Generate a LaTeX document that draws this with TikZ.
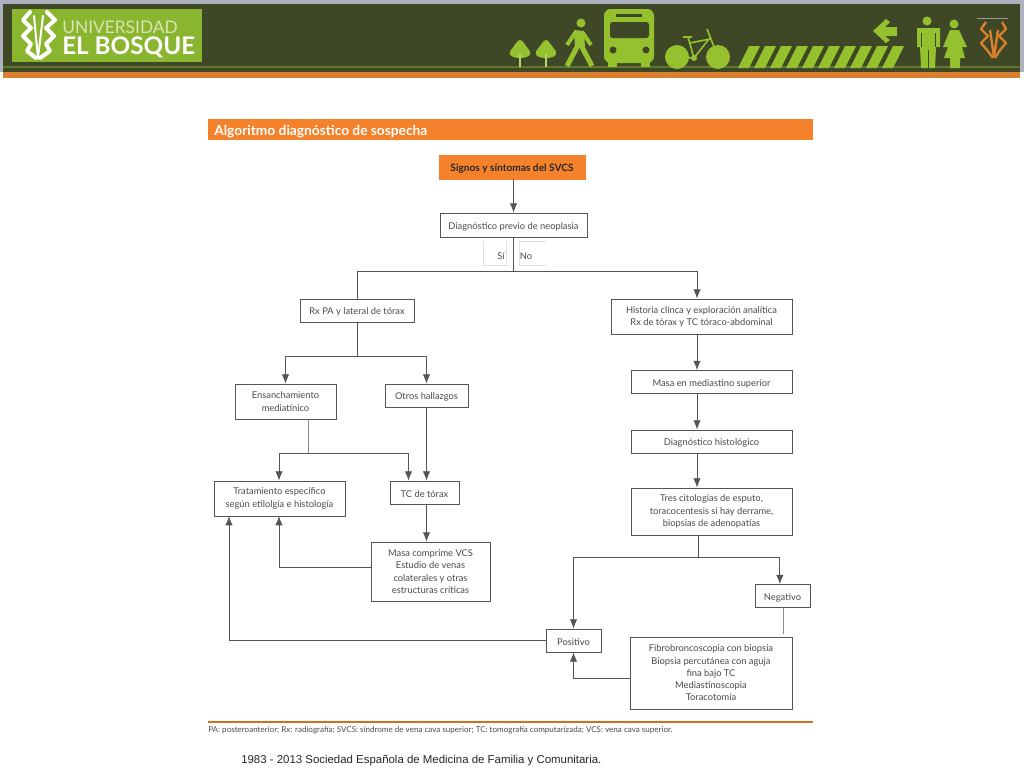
\documentclass[tikz,border=0pt]{standalone}
\usepackage{fontspec}
\setmainfont{Lato}
\newfontfamily\piefont{Liberation Sans}
\usetikzlibrary{arrows.meta}

\definecolor{banda}{HTML}{3E4827}
\definecolor{marco}{HTML}{AEB2BE}
\definecolor{verdelogo}{HTML}{8AB52E}
\definecolor{verdeicono}{HTML}{95C12F}
\definecolor{naranja}{HTML}{F5822A}
\definecolor{naranjabanda}{HTML}{D9802F}
\definecolor{linea}{HTML}{555555}
\definecolor{texto}{HTML}{4A4A4A}

\tikzset{
	caja/.style={draw=linea, line width=0.6pt, fill=white, text=texto, align=center,
		inner sep=0pt, font=\fontsize{7}{9.2}\selectfont,
		execute at begin node={\rule{0pt}{7.4pt}}},
	flecha/.style={draw=linea, line width=0.6pt, -{Latex[length=7pt, width=5.5pt]}},
	tramo/.style={draw=linea, line width=0.6pt},
	tramogris/.style={draw=black!45, line width=0.7pt},
	icono/.style={fill=verdeicono, draw=none},
}

\begin{document}
\begin{tikzpicture}[x=0.75pt, y=-0.75pt]
	\useasboundingbox (0, 0) rectangle (1024, 768);

	% banda superior
	\fill[marco] (0, 0) rectangle (1024, 72);
	\fill[banda] (3, 4) rectangle (1020, 72);
	\draw[verdeicono!40!banda, line width=0.8pt] (3, 67) -- (1020, 67);
	\fill[naranjabanda] (3, 72) rectangle (1020, 78);

	% logo
	\fill[verdelogo] (12, 9) rectangle (202, 62);
	\node[anchor=west, inner sep=0pt, text=verdelogo!35!white, font=\fontsize{13}{13}\selectfont]
		(universidad) at (62, 27) {UNIVERSIDAD};
	\node[anchor=west, inner sep=0pt, text=white, font=\fontsize{18.2}{18.2}\selectfont\bfseries]
		(bosque) at (62, 47) {EL BOSQUE};
	\begin{scope}[draw=white, line join=round, line cap=round]
		\draw[line width=1.5pt] (34, 16) -- (38, 58) -- (43, 16);
		\draw[line width=3pt] (30, 12) -- (23, 20) -- (31, 28) -- (23, 36) -- (31, 44) -- (27, 51) -- (36, 58);
		\draw[line width=3pt] (47, 12) -- (55, 20) -- (46, 28) -- (54, 36) -- (46, 44) -- (50, 51) -- (40, 58);
	\end{scope}

	% arboles
	\foreach \tx in {520, 546} {
		\fill[icono, rounded corners=3pt] (\tx, 38) -- (\tx+12, 54) -- (\tx+6, 58)
			-- (\tx-6, 58) -- (\tx-12, 54) -- cycle;
		\fill[verdeicono!70!white] (\tx-1.2, 54) rectangle (\tx+1.2, 67);
	}

	% peaton
	\fill[icono] (581, 23) circle (4.5);
	\fill[icono] (574, 30) -- (584, 31) -- (585, 47) -- (575, 49) -- cycle;
	\draw[verdeicono, line width=3pt, line join=round] (567, 45) -- (575, 33);
	\draw[verdeicono, line width=3pt, line join=round] (583, 33) -- (591, 45);
	\draw[verdeicono, line width=3.8pt, line join=round] (567, 66) -- (577, 47);
	\draw[verdeicono, line width=3.8pt, line join=round] (592, 66) -- (582, 47);

	% autobus
	\fill[icono, rounded corners=5pt] (604, 9) rectangle (654, 63);
	\fill[banda, rounded corners=2pt] (610, 22) rectangle (649, 38);
	\fill[banda] (616, 14) rectangle (642, 17);
	\fill[banda] (613, 50) circle (3.5);
	\fill[banda] (646, 50) circle (3.5);
	\fill[icono] (608, 60) rectangle (617, 67);
	\fill[icono] (641, 60) rectangle (650, 67);

	% bicicleta
	\fill[icono] (677, 57) circle (12);
	\fill[icono] (718, 57) circle (12);
	\draw[verdeicono, line width=1.2pt] (677, 57) -- (694, 58) -- (688, 37);
	\draw[verdeicono, line width=1.2pt] (694, 58) -- (709, 39);
	\draw[verdeicono, line width=1.2pt] (718, 57) -- (707, 29);
	\draw[verdeicono, line width=1.2pt] (690, 43) -- (710, 39);
	\draw[verdeicono, line width=2pt] (683, 37) -- (692, 37);
	\fill[icono] (694, 58) circle (3);

	% rayas del suelo
	\foreach \sx in {0, ..., 9} {
		\fill[icono] (738+16*\sx, 68) -- (749+16*\sx, 68)
			-- (760+16*\sx, 46) -- (749+16*\sx, 46) -- cycle;
	}

	% flecha de la banda
	\fill[icono] (873, 31) -- (886, 19) -- (890, 22) -- (885, 27) -- (897, 27)
		-- (897, 36) -- (885, 36) -- (890, 40) -- (886, 43) -- cycle;

	% hombre y mujer
	\fill[icono] (927, 21) circle (4.5);
	\fill[icono] (917, 28) -- (940, 28) -- (940, 47) -- (936, 47) -- (935, 68)
		-- (921, 68) -- (920, 47) -- (917, 47) -- cycle;
	\draw[banda, line width=0.7pt] (928, 50) -- (928, 68);
	\draw[banda, line width=0.5pt] (921, 33) -- (921, 47);
	\draw[banda, line width=0.5pt] (935, 33) -- (935, 47);
	\fill[icono] (954, 24) circle (4.5);
	\fill[icono] (950, 30) -- (959, 30) -- (967, 47) -- (962, 47) -- (965, 58)
		-- (960, 58) -- (960, 68) -- (950, 68) -- (950, 58) -- (944, 58)
		-- (948, 47) -- (943, 47) -- cycle;

	% escudo naranja
	\draw[black!40, line width=0.4pt] (977, 18) -- (1008, 18);
	\begin{scope}[draw=naranjabanda, line width=1.8pt, line join=round]
		\draw (990, 30) -- (994, 57) -- (998, 30);
		\draw (986, 22) -- (981, 29) -- (988, 36) -- (981, 43) -- (987, 50) -- (993, 58);
		\draw (1002, 22) -- (1006, 29) -- (999, 36) -- (1006, 43) -- (1000, 50) -- (995, 58);
	\end{scope}

	% titulo
	\fill[naranja] (208, 119) rectangle (813, 140);
	\node[anchor=west, inner sep=0pt, text=white, font=\fontsize{10.3}{11}\selectfont\bfseries]
		(titulo) at (214, 132) {Algoritmo diagnóstico de sospecha};

	% etiquetas Si y No
	\draw[black!12, line width=0.6pt] (483, 241) |- (506, 265) -- (506, 241);
	\draw[black!12, line width=0.6pt] (546, 241) -- (519, 241) |- (546, 265);

	% cajas
	\node[caja, draw=naranja, fill=naranja, text=black!85, minimum width=146*0.75pt, minimum height=24*0.75pt,
		font=\fontsize{7.6}{9.6}\selectfont\bfseries] (signos) at (512, 167) {Signos y síntomas del SVCS};
	\node[caja, minimum width=147*0.75pt, minimum height=24*0.75pt] (previo) at (513.5, 225) {Diagnóstico previo de neoplasia};
	\node[caja, minimum width=114*0.75pt, minimum height=23*0.75pt] (rx) at (357, 310.5) {Rx PA y lateral de tórax};
	\node[caja, minimum width=181*0.75pt, minimum height=35*0.75pt] (historia) at (701.5, 316.5) {Historia clínca y exploración analítica\\Rx de tórax y TC tóraco-abdominal};
	\node[caja, minimum width=101*0.75pt, minimum height=35*0.75pt] (ensanch) at (285.5, 401.5) {Ensanchamiento\\mediatínico};
	\node[caja, minimum width=83*0.75pt, minimum height=23*0.75pt] (otros) at (426.5, 395.5) {Otros hallazgos};
	\node[caja, minimum width=131*0.75pt, minimum height=35*0.75pt] (tratam) at (279.5, 498.5) {Tratamiento específico\\según etilolgía e histología};
	\node[caja, minimum width=69*0.75pt, minimum height=23*0.75pt] (tctorax) at (424.5, 492.5) {TC de tórax};
	\node[caja, minimum width=119*0.75pt, minimum height=59*0.75pt] (masavcs) at (430.5, 571.5) {Masa comprime VCS\\Estudio de venas\\colaterales y otras\\estructuras críticas};
	\node[caja, minimum width=161*0.75pt, minimum height=23*0.75pt] (masasup) at (711.5, 382) {Masa en mediastino superior};
	\node[caja, minimum width=161*0.75pt, minimum height=23*0.75pt] (histol) at (711.5, 441.5) {Diagnóstico histológico};
	\node[caja, minimum width=161*0.75pt, minimum height=47*0.75pt] (tres) at (711.5, 511.5) {Tres citologías de esputo,\\toracocentesis si hay derrame,\\biopsias de adenopatías};
	\node[caja, minimum width=55*0.75pt, minimum height=23*0.75pt] (negativo) at (782.5, 596) {Negativo};
	\node[caja, minimum width=55*0.75pt, minimum height=23*0.75pt] (positivo) at (573.5, 640.5) {Positivo};
	\node[caja, minimum width=162*0.75pt, minimum height=72*0.75pt] (fibro) at (711, 673) {Fibrobroncoscopia con biopsia\\Biopsia percutánea con aguja\\fina bajo TC\\Mediastinoscopia\\Toracotomía};

	% textos Si y No
	\node[inner sep=0pt, text=texto, font=\fontsize{7}{9}\selectfont] (si) at (501, 256) {Sí};
	\node[inner sep=0pt, text=texto, font=\fontsize{7}{9}\selectfont] (no) at (526, 256) {No};

	% puntos de reparto
	\coordinate (reparto) at (513.5, 271);
	\coordinate (repartorx) at (357, 356);
	\coordinate (repartoen) at (308, 453);
	\coordinate (ejeder) at (697, 271);
	\coordinate (repartotr) at (698, 557);
	\coordinate (finnegativo) at (783, 634);
	\coordinate (entratam) at (229, 516);
	\coordinate (enmasa) at (279, 516);

	% conexiones de arriba
	\draw[flecha] (signos.south -| previo.south) -- (previo.north);
	\draw[tramo] (previo.south) -- (reparto);
	\draw[tramo] (reparto) -| (rx.north);
	\draw[flecha] (reparto) -| (historia.north -| ejeder);

	% rama izquierda
	\draw[tramo] (rx.south) -- (repartorx);
	\draw[flecha] (repartorx) -| (ensanch.north);
	\draw[flecha] (repartorx) -| (otros.north);
	\draw[tramogris] (ensanch.south -| repartoen) -- (repartoen);
	\draw[flecha] (repartoen) -| (tratam.north -| enmasa);
	\draw[flecha] (repartoen) -| ([xshift=-12pt]tctorax.north);
	\draw[flecha] (otros.south) -- (otros.south |- tctorax.north);
	\draw[flecha] (tctorax.south -| otros.south) -- (masavcs.north -| otros.south);
	\draw[flecha] (masavcs.west |- 0, 567) -| (enmasa);
	\draw[flecha] (positivo.west) -| (entratam);

	% rama derecha
	\draw[flecha] (historia.south -| ejeder) -- (masasup.north -| ejeder);
	\draw[flecha] (masasup.south -| ejeder) -- (histol.north -| ejeder);
	\draw[flecha] (histol.south -| ejeder) -- (tres.north -| ejeder);
	\draw[tramo] (tres.south -| repartotr) -- (repartotr);
	\draw[flecha] (repartotr) -| (positivo.north);
	\draw[flecha] (repartotr) -| ([xshift=-2pt]negativo.north);
	\draw[tramogris] (negativo.south -| finnegativo) -- (finnegativo);
	\draw[flecha] (fibro.west |- 0, 678) -| (positivo.south);

	% pie de la figura
	\draw[naranja!85!black, line width=1pt] (208, 722) -- (813, 722);
	\node[anchor=west, inner sep=0pt, text=texto, font=\fontsize{6.04}{7}\selectfont]
		(nota) at (208, 730.5) {PA: posteroanterior; Rx: radiografía; SVCS: síndrome de vena cava superior; TC: tomografía computarizada; VCS: vena cava superior.};
	\node[anchor=west, inner sep=0pt, text=black!85, font=\piefont\fontsize{8.57}{10}\selectfont]
		(pie) at (241, 761) {1983 - 2013 Sociedad Española de Medicina de Familia y Comunitaria.};
\end{tikzpicture}
\end{document}
